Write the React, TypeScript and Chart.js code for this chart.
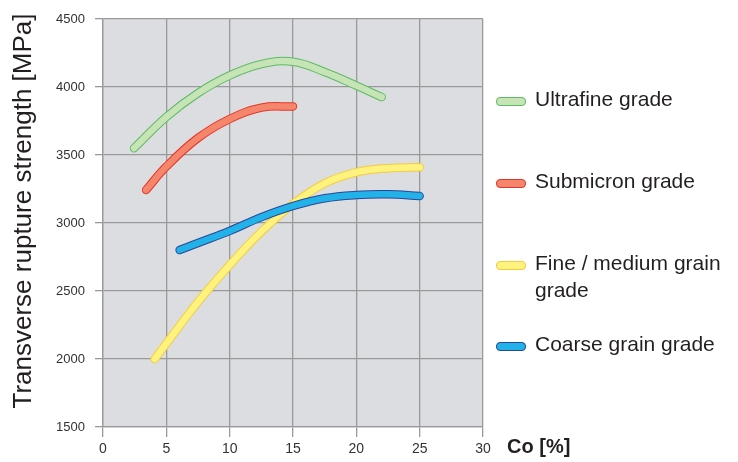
import React, { useEffect, useRef } from "react";
import { Chart, registerables } from "chart.js";

Chart.register(...registerables);

// ---- Data ----
const ultrafineX = [2.45, 5, 7.5, 10, 12.5, 15, 17.5, 20, 22];
const ultrafineY = [3550, 3780, 3955, 4085, 4168, 4186, 4110, 4010, 3926];

const submicronX = [3.4, 5, 7.5, 10, 12.5, 15];
const submicronY = [3243, 3415, 3625, 3765, 3848, 3857];

const fineX = [4.08, 5, 7.5, 10, 12.5, 15, 17.5, 20, 22.5, 25];
const fineY = [2000, 2114, 2420, 2691, 2936, 3140, 3292, 3373, 3403, 3410];

const coarseX = [6.05, 7.5, 10, 12.5, 15, 17.5, 20, 22.5, 25];
const coarseY = [2801, 2853, 2942, 3043, 3125, 3182, 3206, 3211, 3198];

const seriesNames = ["Ultrafine grade", "Submicron grade", "Fine / medium grain grade", "Coarse grain grade"];
const legendLines = [["Ultrafine grade"], ["Submicron grade"], ["Fine / medium grain", "grade"], ["Coarse grain grade"]];
const fillColors = ["#c6e4b6", "#f6866b", "#fff27e", "#21b2ea"];
const edgeColors = ["#5dbb63", "#e2362c", "#f3cd3c", "#2c4595"];

const xMin = 0, xMax = 30, xStep = 5;
const yMin = 1500, yMax = 4500, yStep = 500;
const xTitle = "Co [%]";
const yTitle = "Transverse rupture strength [MPa]";

const FONT = "'Liberation Sans', Arial, Helvetica, sans-serif";

const seriesX = [ultrafineX, submicronX, fineX, coarseX];
const seriesY = [ultrafineY, submicronY, fineY, coarseY];

const legendCenters = [101.5, 183, 265, 346.5];

export default function App() {
  const canvasRef = useRef<HTMLCanvasElement | null>(null);

  useEffect(() => {
    const canvas = canvasRef.current;
    if (!canvas) return;

    const datasets: any[] = [];
    seriesNames.forEach((name, s) => {
      const pts = seriesX[s].map((x, i) => ({ x, y: seriesY[s][i] }));
      const common = {
        data: pts,
        pointRadius: 0,
        tension: 0.4,
        borderCapStyle: "round",
        borderJoinStyle: "round",
        fill: false,
      };
      datasets.push({
        ...common,
        label: name + " outline",
        borderColor: edgeColors[s],
        borderWidth: 8.5,
        order: 100 - 2 * s,
      });
      datasets.push({
        ...common,
        label: name,
        borderColor: fillColors[s],
        borderWidth: 6.5,
        order: 99 - 2 * s,
      });
    });

    const bgPlugin = {
      id: "plotBg",
      beforeDraw(chart: any) {
        const { ctx, chartArea } = chart;
        ctx.save();
        ctx.fillStyle = "#dcdde0";
        ctx.fillRect(chartArea.left, chartArea.top, chartArea.right - chartArea.left, chartArea.bottom - chartArea.top);
        ctx.restore();
      },
    };

    const titlePlugin = {
      id: "axisTitles",
      afterDraw(chart: any) {
        const { ctx } = chart;
        ctx.save();
        ctx.fillStyle = "#231f20";
        ctx.font = `26px ${FONT}`;
        ctx.textAlign = "center";
        ctx.textBaseline = "middle";
        ctx.translate(24, 211);
        ctx.rotate(-Math.PI / 2);
        ctx.fillText(yTitle, 0, 0);
        ctx.restore();

        ctx.save();
        ctx.fillStyle = "#231f20";
        ctx.font = `bold 20px ${FONT}`;
        ctx.textAlign = "left";
        ctx.textBaseline = "middle";
        ctx.fillText(xTitle, 507, 447);
        ctx.restore();
      },
    };

    const gridColor = "#9a9a9a";

    const chart = new Chart(canvas, {
      type: "line",
      data: { datasets },
      options: {
        responsive: false,
        animation: false,
        events: [],
        layout: { padding: { top: 19, right: 255, left: 0, bottom: 0 } },
        plugins: {
          legend: { display: false },
          tooltip: { enabled: false },
        },
        scales: {
          x: {
            type: "linear",
            min: xMin,
            max: xMax,
            ticks: {
              stepSize: xStep,
              color: "#333",
              font: { family: FONT, size: 14 },
              padding: 4,
              maxRotation: 0,
              autoSkip: false,
              callback: (v: any) => String(v),
            },
            grid: { color: gridColor, lineWidth: 1.3, tickLength: 10 },
            border: { display: true, color: gridColor, width: 1.3 },
            afterFit(scale: any) {
              scale.height = 35;
            },
          },
          y: {
            type: "linear",
            min: yMin,
            max: yMax,
            ticks: {
              stepSize: yStep,
              color: "#333",
              font: { family: FONT, size: 13 },
              padding: 10,
              autoSkip: false,
              callback: (v: any) => String(v),
            },
            grid: { color: gridColor, lineWidth: 1.3, tickLength: 8 },
            border: { display: true, color: gridColor, width: 1.3 },
            afterFit(scale: any) {
              scale.width = 103;
            },
          },
        },
      },
      plugins: [bgPlugin, titlePlugin],
    } as any);

    return () => chart.destroy();
  }, []);

  return (
    <div style={{ position: "fixed", left: 0, top: 0, width: 738, height: 462, background: "#fff", overflow: "hidden" }}>
      <canvas ref={canvasRef} width={738} height={462} style={{ display: "block", width: 738, height: 462 }} />
      {legendLines.map((lines, s) => (
        <React.Fragment key={s}>
          <div
            style={{
              position: "absolute",
              left: 496,
              top: legendCenters[s] - 4.5,
              width: 28,
              height: 7,
              borderRadius: 4,
              background: fillColors[s],
              border: `1px solid ${edgeColors[s]}`,
            }}
          />
          <div
            style={{
              position: "absolute",
              left: 535,
              top: legendCenters[s] - 3 - 13.5,
              fontFamily: FONT,
              fontSize: 21,
              lineHeight: "27px",
              color: "#231f20",
              whiteSpace: "nowrap",
            }}
          >
            {lines.map((t, i) => (
              <div key={i}>{t}</div>
            ))}
          </div>
        </React.Fragment>
      ))}
    </div>
  );
}
